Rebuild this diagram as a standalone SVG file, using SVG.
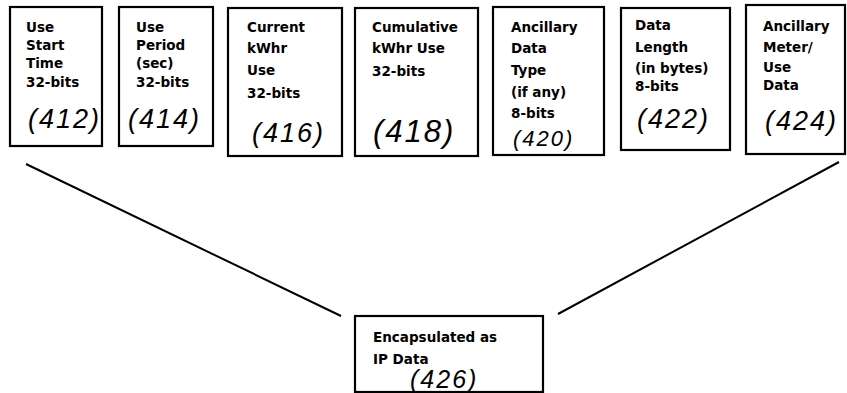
<svg xmlns="http://www.w3.org/2000/svg" width="847" height="393" viewBox="0 0 847 393">
<style>
.box{fill:#fff;stroke:#000;stroke-width:2.2}
.t{font-family:"DejaVu Sans",sans-serif;font-weight:bold;font-size:13.5px;fill:#000}
.h{font-family:"Liberation Sans",sans-serif;font-style:italic;fill:#000;letter-spacing:2px}
.conn{stroke:#000;stroke-width:2;fill:none}
</style>
<rect width="847" height="393" fill="#fff"/>
<g id="connectors">
<line class="conn" x1="26" y1="164" x2="341" y2="316"/>
<line class="conn" x1="839" y1="162" x2="558" y2="314"/>
</g>
<g id="n412">
<rect class="box" x="10" y="7" width="92" height="139"/>
<text class="t" x="26" y="32">Use</text>
<text class="t" x="26" y="50">Start</text>
<text class="t" x="26" y="68">Time</text>
<text class="t" x="26" y="87">32-bits</text>
<text class="h" x="28" y="128" font-size="27">(412)</text>
</g>
<g id="n414">
<rect class="box" x="119" y="7" width="94" height="139"/>
<text class="t" x="136" y="32">Use</text>
<text class="t" x="136" y="50">Period</text>
<text class="t" x="136" y="68">(sec)</text>
<text class="t" x="136" y="87">32-bits</text>
<text class="h" x="128" y="128" font-size="27">(414)</text>
</g>
<g id="n416">
<rect class="box" x="228" y="8" width="114" height="148"/>
<text class="t" x="247" y="32">Current</text>
<text class="t" x="247" y="53">kWhr</text>
<text class="t" x="247" y="75">Use</text>
<text class="t" x="247" y="98">32-bits</text>
<text class="h" x="252" y="142" font-size="27">(416)</text>
</g>
<g id="n418">
<rect class="box" x="355" y="8" width="123" height="148"/>
<text class="t" x="372" y="32">Cumulative</text>
<text class="t" x="372" y="53">kWhr Use</text>
<text class="t" x="372" y="76">32-bits</text>
<text class="h" x="373" y="142" font-size="31">(418)</text>
</g>
<g id="n420">
<rect class="box" x="493" y="7" width="111" height="148"/>
<text class="t" x="511" y="32">Ancillary</text>
<text class="t" x="511" y="53">Data</text>
<text class="t" x="511" y="75">Type</text>
<text class="t" x="511" y="97">(if any)</text>
<text class="t" x="511" y="118">8-bits</text>
<text class="h" x="513" y="146" font-size="22" letter-spacing="3">(420)</text>
</g>
<g id="n422">
<rect class="box" x="621" y="8" width="109" height="142"/>
<text class="t" x="635" y="30">Data</text>
<text class="t" x="635" y="52">Length</text>
<text class="t" x="635" y="73">(in bytes)</text>
<text class="t" x="635" y="91">8-bits</text>
<text class="h" x="637" y="128" font-size="27" letter-spacing="5">(422)</text>
</g>
<g id="n424">
<rect class="box" x="746" y="5" width="99" height="149"/>
<text class="t" x="763" y="31">Ancillary</text>
<text class="t" x="763" y="52">Meter/</text>
<text class="t" x="763" y="72">Use</text>
<text class="t" x="763" y="90">Data</text>
<text class="h" x="765" y="130" font-size="27" letter-spacing="3">(424)</text>
</g>
<g id="n426">
<rect class="box" x="355" y="316" width="188" height="76"/>
<text class="t" x="373" y="342">Encapsulated as</text>
<text class="t" x="373" y="364">IP Data</text>
<text class="h" x="410" y="388" font-size="25" letter-spacing="3">(426)</text>
</g>
</svg>
